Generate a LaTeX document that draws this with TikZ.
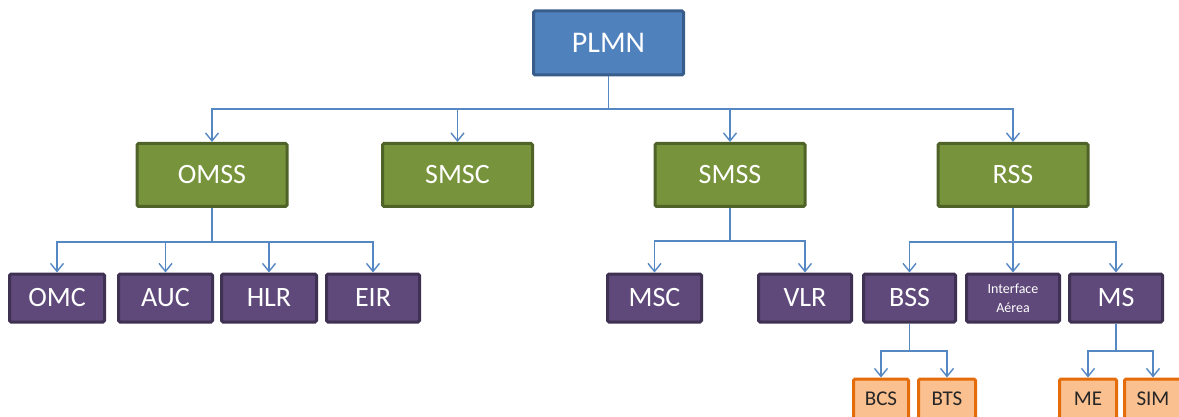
\documentclass[tikz,border=0pt]{standalone}
\usepackage{fontspec}
\setmainfont{Carlito}
\usetikzlibrary{arrows.meta}

\definecolor{topfill}{RGB}{79,129,189}
\definecolor{topline}{RGB}{56,93,138}
\definecolor{grnfill}{RGB}{119,147,60}
\definecolor{grnline}{RGB}{79,98,40}
\definecolor{purfill}{RGB}{95,73,122}
\definecolor{purline}{RGB}{63,49,81}
\definecolor{orgfill}{RGB}{250,192,144}
\definecolor{orgline}{RGB}{228,108,10}
\definecolor{linkcol}{RGB}{85,135,195}
\definecolor{orgtext}{RGB}{38,38,38}

\tikzset{
  box/.style={draw, line width=3pt, rounded corners=1.5pt, inner sep=0pt,
              align=center, text=white},
  rootbox/.style={box, fill=topfill, draw=topline, minimum width=150pt,
                  minimum height=64pt, font=\fontsize{30}{33}\selectfont},
  subbox/.style={box, fill=grnfill, draw=grnline, minimum width=150pt,
                 minimum height=63pt, font=\fontsize{28}{31}\selectfont},
  unitbox/.style={box, fill=purfill, draw=purline, minimum height=48pt,
                  font=\fontsize{28}{31}\selectfont},
  smallbox/.style={box, fill=orgfill, draw=orgline, minimum height=40pt,
                   text=orgtext, font=\fontsize{21}{24}\selectfont},
  link/.style={draw=linkcol, line width=1.4pt},
  arrow/.style={link, -{Straight Barb[length=8pt,width=13pt,line width=1.4pt]}},
}

\begin{document}
\begin{tikzpicture}[x=1pt,y=-1pt]
\useasboundingbox (0,0) rectangle (1179,417);
\clip (0,0) rectangle (1179,417);

% top level
\node[rootbox] (plmn) at (608.5,43) {PLMN};

% second level
\node[subbox] (omss) at (212,175) {OMSS};
\node[subbox] (smsc) at (457.5,175) {SMSC};
\node[subbox] (smss) at (730,175) {SMSS};
\node[subbox] (rss)  at (1013,175) {RSS};

% third level
\node[unitbox, minimum width=95pt] (omc) at (57,298) {OMC};
\node[unitbox, minimum width=94pt] (auc) at (165.5,298) {AUC};
\node[unitbox, minimum width=95pt] (hlr) at (269,298) {HLR};
\node[unitbox, minimum width=93pt] (eir) at (373,298) {EIR};
\node[unitbox, minimum width=94pt] (msc) at (654.5,298) {MSC};
\node[unitbox, minimum width=93pt] (vlr) at (805,298) {VLR};
\node[unitbox, minimum width=92pt] (bss) at (909.5,298) {BSS};
\node[unitbox, minimum width=93pt, font=\fontsize{14}{19}\selectfont]
     (air) at (1013,298) {Interface\\Aérea};
\node[unitbox, minimum width=93pt] (ms) at (1116,298) {MS};

% fourth level
\node[smallbox, minimum width=55pt] (bcs) at (881,399) {BCS};
\node[smallbox, minimum width=57pt] (bts) at (947,399) {BTS};
\node[smallbox, minimum width=57pt] (me)  at (1088,399) {ME};
\node[smallbox, minimum width=57pt] (sim) at (1153,399) {SIM};

% bus junctions
\coordinate (busA) at (plmn.south |- 0,109);
\coordinate (busB) at (omss.south |- 0,242);
\coordinate (busC) at (smss.south |- 0,241);
\coordinate (busD) at (rss.south |- 0,242);
\coordinate (busE) at (bss.south |- 0,351);
\coordinate (busF) at (ms.south |- 0,351);

% PLMN branches
\draw[link] (plmn.south) -- (busA);
\foreach \c in {omss,smsc,smss,rss}
  \draw[arrow] (busA) -| (\c.north);

% OMSS branches
\draw[link] (omss.south) -- (busB);
\foreach \c in {omc,auc,hlr,eir}
  \draw[arrow] (busB) -| (\c.north);

% SMSS branches
\draw[link] (smss.south) -- (busC);
\foreach \c in {msc,vlr}
  \draw[arrow] (busC) -| (\c.north);

% RSS branches
\draw[link] (rss.south) -- (busD);
\foreach \c in {bss,air,ms}
  \draw[arrow] (busD) -| (\c.north);

% BSS branches
\draw[link] (bss.south) -- (busE);
\foreach \c in {bcs,bts}
  \draw[arrow] (busE) -| (\c.north);

% MS branches
\draw[link] (ms.south) -- (busF);
\foreach \c in {me,sim}
  \draw[arrow] (busF) -| (\c.north);
\end{tikzpicture}
\end{document}
